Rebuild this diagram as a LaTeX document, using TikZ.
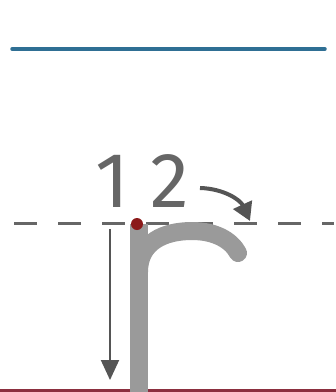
\documentclass[tikz,border=0pt]{standalone}
\usepackage{fontspec}
\newfontfamily\digitfont{Fira Sans}
\usetikzlibrary{arrows.meta}
\definecolor{guideblue}{HTML}{2F6F94}
\definecolor{guidered}{HTML}{8C2F3F}
\definecolor{dotred}{HTML}{8B1A1A}
\definecolor{strokegray}{HTML}{9A9A9A}
\definecolor{arrowgray}{HTML}{555555}
\definecolor{numgray}{HTML}{666666}

\begin{document}
\begin{tikzpicture}[
    x=1pt, y=-1pt,
    topline/.style={guideblue, line width=3.5pt, line cap=round},
    midline/.style={numgray, line width=3pt, dash pattern=on 23pt off 21pt},
    baseline/.style={guidered, line width=3pt},
    letter/.style={strokegray, line width=18pt},
    num/.style={font=\digitfont\fontsize{78}{78}\selectfont, text=numgray, inner sep=0pt, anchor=base},
    downarrow/.style={-{Triangle[length=20pt, width=18pt]}, arrowgray, line width=2pt},
    turnarrow/.style={-{Triangle[length=18pt, width=20pt]}, arrowgray, line width=4pt}
]
\useasboundingbox (0,0) rectangle (336,392);

% guide lines
\coordinate (topL) at (12,49);
\coordinate (topR) at (325,49);
\coordinate (midL) at (14,223);
\coordinate (midR) at (334,223);
\coordinate (botL) at (0,390);
\coordinate (botR) at (336,390);
\draw[topline] (topL) -- (topR);
\draw[midline] (midL) -- (midR);
\draw[baseline] (botL) -- (botR);

% the letter r
\coordinate (stemTop) at (139,224);
\coordinate (stemBot) at (139,393);
\draw[letter] (stemTop) -- (stemBot);
\draw[letter, line cap=round] (139,272) .. controls (139,242) and (164,231) .. (192,231)
    .. controls (215,231) and (231,240) .. (238,253);
\node[circle, fill=dotred, inner sep=0pt, minimum size=12pt] (start) at (137,224) {};

% stroke numbers
\node[num] (one) at (112,207) {1};
\node[num] (two) at (170,207) {2};

% stroke directions
\coordinate (downS) at (110,229);
\coordinate (downE) at (110,380);
\draw[downarrow] (downS) -- (downE);
\coordinate (turnS) at (200,188);
\coordinate (turnE) at (250,221);
\draw[turnarrow] (turnS) to[bend left=32] (turnE);
\end{tikzpicture}
\end{document}
